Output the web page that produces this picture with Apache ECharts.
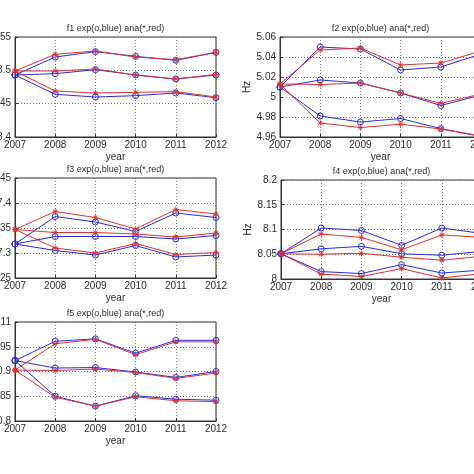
<!DOCTYPE html>
<html>
<head>
<meta charset="utf-8">
<script src="https://cdn.jsdelivr.net/npm/echarts@6/dist/echarts.min.js"></script>
<style>html,body{margin:0;padding:0;background:#fff;}#c{width:474px;height:474px;}</style>
</head>
<body>
<div id="c"></div>
<script>
const years = ['2007','2008','2009','2010','2011','2012'];

const f1ExpHigh = [8.493, 8.520, 8.528, 8.521, 8.515, 8.527];
const f1AnaHigh = [8.499, 8.524, 8.529, 8.520, 8.516, 8.527];
const f1ExpMid  = [8.493, 8.495, 8.501, 8.493, 8.487, 8.493];
const f1AnaMid  = [8.499, 8.499, 8.502, 8.493, 8.487, 8.494];
const f1ExpLow  = [8.493, 8.464, 8.460, 8.462, 8.466, 8.459];
const f1AnaLow  = [8.499, 8.469, 8.466, 8.467, 8.468, 8.460];

const f2ExpHigh = [5.010, 5.050, 5.048, 5.027, 5.030, 5.043];
const f2AnaHigh = [5.013, 5.047, 5.049, 5.032, 5.034, 5.046];
const f2ExpMid  = [5.010, 5.017, 5.014, 5.004, 4.9915, 5.002];
const f2AnaMid  = [5.013, 5.0125, 5.014, 5.004, 4.9936, 5.003];
const f2ExpLow  = [5.010, 4.981, 4.975, 4.9785, 4.9684, 4.9605];
const f2AnaLow  = [5.013, 4.974, 4.9694, 4.9728, 4.968, 4.961];

const f3ExpHigh = [7.318, 7.373, 7.362, 7.343, 7.380, 7.371];
const f3AnaHigh = [7.347, 7.383, 7.371, 7.348, 7.387, 7.378];
const f3ExpMid  = [7.318, 7.333, 7.333, 7.333, 7.328, 7.335];
const f3AnaMid  = [7.347, 7.341, 7.341, 7.338, 7.332, 7.340];
const f3ExpLow  = [7.318, 7.305, 7.296, 7.315, 7.292, 7.296];
const f3AnaLow  = [7.347, 7.310, 7.300, 7.319, 7.297, 7.301];

const f4ExpHigh = [8.051, 8.103, 8.098, 8.068, 8.103, 8.092];
const f4AnaHigh = [8.051, 8.091, 8.084, 8.059, 8.089, 8.084];
const f4ExpMid  = [8.051, 8.061, 8.066, 8.051, 8.048, 8.056];
const f4AnaMid  = [8.051, 8.050, 8.052, 8.044, 8.038, 8.046];
const f4ExpLow  = [8.051, 8.015, 8.011, 8.029, 8.012, 8.018];
const f4AnaLow  = [8.051, 8.010, 8.005, 8.021, 8.002, 8.011];

const f5ExpHigh = [10.922, 10.961, 10.966, 10.937, 10.963, 10.963];
const f5AnaHigh = [10.903, 10.956, 10.965, 10.934, 10.960, 10.960];
const f5ExpMid  = [10.922, 10.907, 10.908, 10.899, 10.888, 10.900];
const f5AnaMid  = [10.903, 10.902, 10.905, 10.898, 10.886, 10.897];
const f5ExpLow  = [10.922, 10.850, 10.830, 10.851, 10.844, 10.842];
const f5AnaLow  = [10.903, 10.848, 10.830, 10.849, 10.841, 10.839];

const titles = ['f1 exp(o,blue) ana(*,red)','f2 exp(o,blue) ana(*,red)','f3 exp(o,blue) ana(*,red)','f4 exp(o,blue) ana(*,red)','f5 exp(o,blue) ana(*,red)'];
const yMins = [8.4, 4.96, 7.25, 8.0, 10.8];
const yMaxs = [8.55, 5.06, 7.45, 8.2, 11.0];
const yIntervals = [0.05, 0.02, 0.05, 0.05, 0.05];
const yNames = ['', 'Hz', '', 'Hz', ''];
const xName = 'year';

const panels = [
  [f1ExpHigh, f1AnaHigh, f1ExpMid, f1AnaMid, f1ExpLow, f1AnaLow],
  [f2ExpHigh, f2AnaHigh, f2ExpMid, f2AnaMid, f2ExpLow, f2AnaLow],
  [f3ExpHigh, f3AnaHigh, f3ExpMid, f3AnaMid, f3ExpLow, f3AnaLow],
  [f4ExpHigh, f4AnaHigh, f4ExpMid, f4AnaMid, f4ExpLow, f4AnaLow],
  [f5ExpHigh, f5AnaHigh, f5ExpMid, f5AnaMid, f5ExpLow, f5AnaLow]
];

const grids = [
  {left: 15, top: 37, width: 201, height: 100},
  {left: 280, top: 37, width: 201, height: 100},
  {left: 15, top: 178, width: 201, height: 100},
  {left: 281, top: 180, width: 201, height: 99},
  {left: 15, top: 322, width: 201, height: 99}
];

const BLUE = '#2a2ad8';
const RED = '#e0302e';
const TXT = '#2b2b2b';
const FONT = 'Liberation Sans';
const STAR = 'path://M-0.12,-1L0.12,-1L0.12,-0.29L0.62,-0.79L0.79,-0.62L0.29,-0.12L1,-0.12L1,0.12L0.29,0.12L0.79,0.62L0.62,0.79L0.12,0.29L0.12,1L-0.12,1L-0.12,0.29L-0.62,0.79L-0.79,0.62L-0.29,0.12L-1,0.12L-1,-0.12L-0.29,-0.12L-0.79,-0.62L-0.62,-0.79L-0.12,-0.29Z';

function fmt(v){ return String(+v.toFixed(3)); }

const option = {
  backgroundColor: '#fff',
  animation: false,
  textStyle: {fontFamily: FONT},
  title: grids.map((g, i) => ({
    text: titles[i],
    left: g.left + g.width / 2,
    top: g.top - 13,
    textAlign: 'center',
    padding: 0,
    textStyle: {fontSize: 9, fontWeight: 'normal', color: TXT, fontFamily: FONT}
  })),
  grid: grids.map(g => Object.assign({show: true, borderColor: '#333', borderWidth: 1, backgroundColor: '#fff', containLabel: false, outerBoundsMode: 'none'}, g)),
  xAxis: grids.map((g, i) => ({
    type: 'category',
    gridIndex: i,
    data: years,
    boundaryGap: false,
    name: xName,
    nameLocation: 'middle',
    nameGap: 15,
    nameTextStyle: {fontSize: 10, color: TXT, fontFamily: FONT},
    axisLine: {lineStyle: {color: '#333', width: 1}},
    axisTick: {inside: true, length: 3, lineStyle: {color: '#333'}},
    axisLabel: {fontSize: 10, color: TXT, margin: 3, fontFamily: FONT, hideOverlap: false},
    splitLine: {show: true, lineStyle: {color: '#777', type: [1, 2], width: 1}}
  })),
  yAxis: grids.map((g, i) => ({
    type: 'value',
    gridIndex: i,
    min: yMins[i],
    max: yMaxs[i],
    interval: yIntervals[i],
    name: yNames[i],
    nameLocation: 'middle',
    nameGap: 28,
    nameTextStyle: {fontSize: 10, color: TXT, fontFamily: FONT},
    axisLine: {show: true, lineStyle: {color: '#333', width: 1}},
    axisTick: {show: true, inside: true, length: 3, lineStyle: {color: '#333'}},
    axisLabel: {fontSize: 10, color: TXT, margin: 4, fontFamily: FONT, formatter: fmt},
    splitLine: {show: true, lineStyle: {color: '#777', type: [1, 2], width: 1}}
  })),
  series: []
};

panels.forEach((arrs, i) => {
  arrs.forEach((arr, j) => {
    const isExp = j % 2 === 0;
    option.series.push({
      type: 'line',
      xAxisIndex: i,
      yAxisIndex: i,
      data: arr,
      symbol: isExp ? 'circle' : STAR,
      symbolSize: 6,
      showSymbol: true,
      lineStyle: {color: isExp ? BLUE : RED, width: 1},
      itemStyle: isExp ? {color: 'rgba(0,0,0,0)', borderColor: BLUE, borderWidth: 1} : {color: RED, borderWidth: 0},
      z: isExp ? 2 : 3,
      clip: true
    });
  });
});

const chart = echarts.init(document.getElementById('c'), null, {renderer: 'canvas'});
chart.setOption(option);
</script>
</body>
</html>
